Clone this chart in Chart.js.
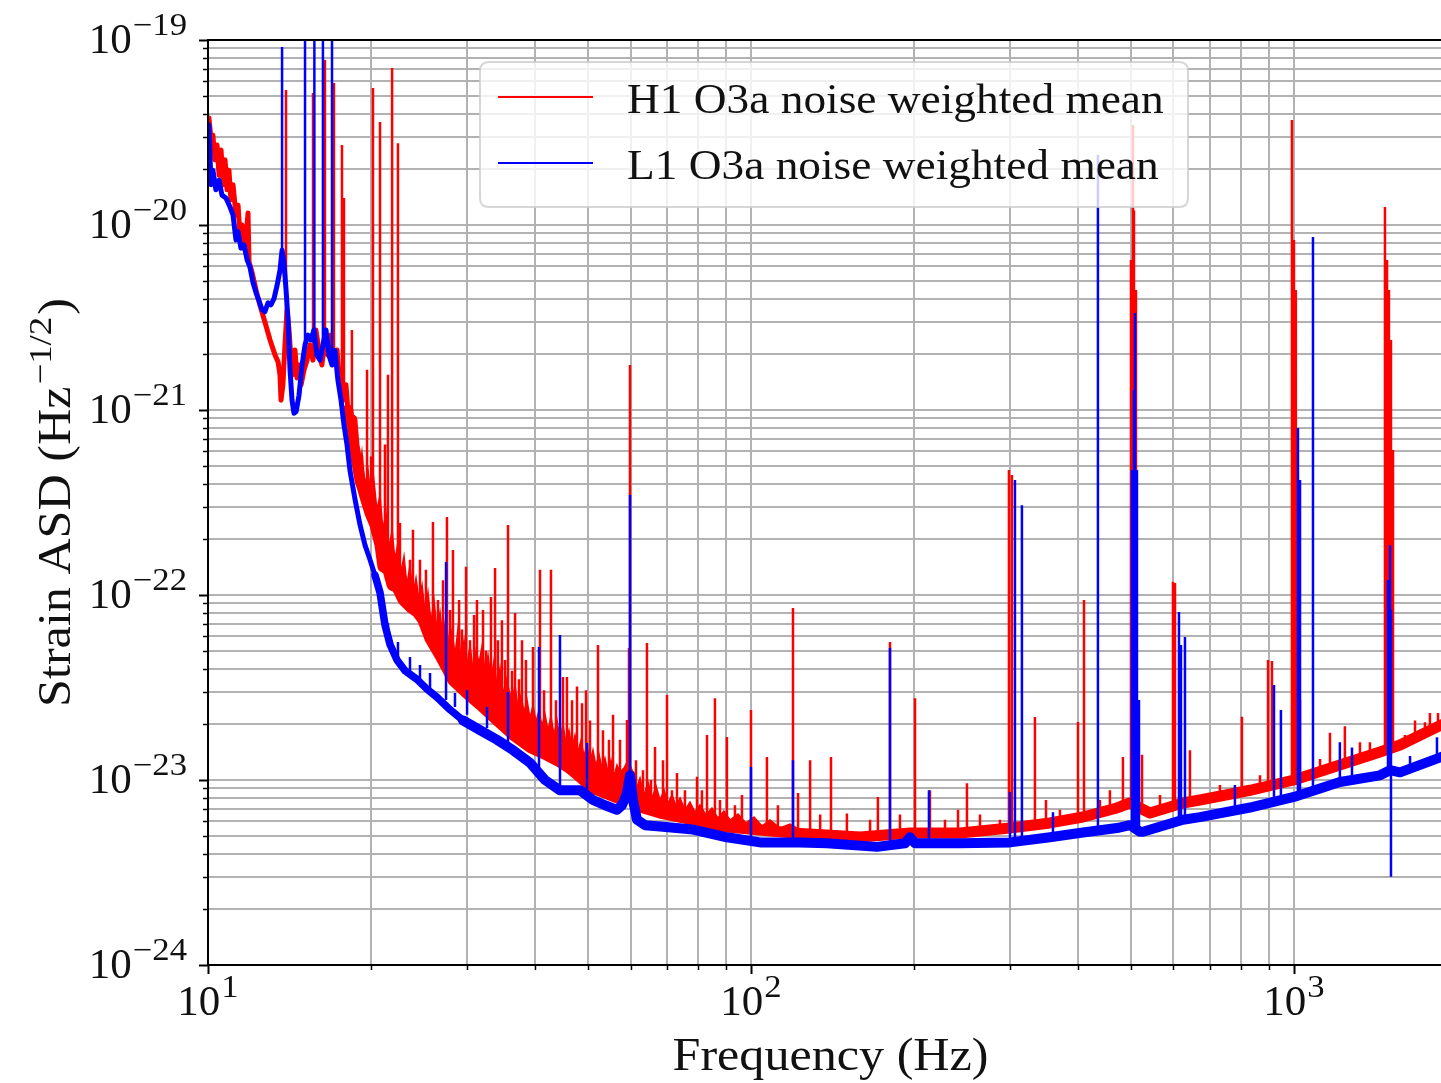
<!DOCTYPE html>
<html><head><meta charset="utf-8">
<script src="https://cdn.jsdelivr.net/npm/chart.js@4.4.0/dist/chart.umd.min.js"></script>
<style>
html,body{margin:0;padding:0;background:#fff;overflow:hidden;width:1441px;height:1083px}
#wrap{position:absolute;left:0;top:0;width:1475px;height:1083px;background:#fff}
</style>
</head><body><div id="wrap"><canvas id="c" width="1475" height="1083"></canvas></div>
<script>
// ---------------- DATA ----------------
const seriesLabels = ['H1 O3a noise weighted mean', 'L1 O3a noise weighted mean'];

// H1 (red) broadband curve
const h1Freq = [10.04,10.13,10.21,10.30,10.39,10.48,10.57,10.66,10.75,10.84,10.93,11.02,11.12,11.26,11.36,11.45,11.55,11.70,11.85,11.90,12.05,12.26,12.46,12.73,13.01,13.29,13.46,13.57,13.63,13.74,13.86,13.98,14.10,14.22,14.34,14.46,14.59,14.71,14.84,15.03,15.22,15.41,15.61,15.80,16.01,16.21,16.42,16.63,16.85,17.06,17.28,17.50,17.73,17.95,18.10,18.26,18.41,18.57,18.81,19.05,19.30,19.54,19.88,20.30,20.74,21.00,21.45,21.83,22.29,22.87,23.55,24.26,24.88,25.64,26.75,27.55,28.26,29.74,31.69,34.06,36.46,39.17,42.11,44.49,46.42,47.82,51.17,53.84,56.65,58.61,59.87,60.64,62.45,68.00,78.2,90.3,103.9,119.5,158.8,196.3,242.7,299.9,355.3,408.7,472.1,498.9,543.0,624.6,671.3,829.8,1000,1215,1440,1568,1865,2048];
const h1Asd = [3.79e-20,2.88e-20,3.06e-20,2.25e-20,2.71e-20,1.86e-20,2.54e-20,1.65e-20,2.25e-20,1.55e-20,1.98e-20,1.37e-20,1.65e-20,1.13e-20,1.28e-20,8.83e-21,1.0e-20,7.33e-21,1.16e-20,6.31e-21,5.57e-21,4.45e-21,3.70e-21,2.99e-21,2.39e-21,1.98e-21,1.82e-21,1.55e-21,1.13e-21,1.37e-21,2.25e-21,3.47e-21,2.71e-21,1.86e-21,1.55e-21,2.11e-21,1.49e-21,1.75e-21,1.37e-21,1.65e-21,1.86e-21,2.25e-21,1.86e-21,2.71e-21,2.11e-21,1.75e-21,2.39e-21,1.98e-21,2.54e-21,1.86e-21,2.11e-21,1.37e-21,1.13e-21,1.37e-21,1.0e-21,7.8e-22,8.83e-22,6.47e-22,5.17e-22,4.18e-22,3.70e-22,3.26e-22,2.77e-22,2.39e-22,1.86e-22,1.42e-22,1.37e-22,1.13e-22,1.10e-22,9.4e-23,8.61e-23,8.09e-23,7.33e-23,5.8e-23,4.7e-23,4.0e-23,3.45e-23,3.0e-23,2.55e-23,2.1e-23,1.75e-23,1.5e-23,1.36e-23,1.25e-23,1.15e-23,1.07e-23,9.0e-24,8.5e-24,8.0e-24,8.83e-24,1.06e-23,8.3e-24,7.15e-24,6.63e-24,6.08e-24,5.57e-24,5.37e-24,5.17e-24,4.92e-24,5.17e-24,5.17e-24,5.50e-24,5.86e-24,6.31e-24,7.06e-24,7.51e-24,6.63e-24,7.51e-24,7.8e-24,8.8e-24,1.0e-23,1.205e-23,1.417e-23,1.546e-23,1.98e-23,2.16e-23];

// H1 dense line forest, upper edge (filled down to the H1 curve)
const h1ForestFreq = [18.41,18.65,18.81,19.05,19.21,19.46,19.71,19.96,20.21,20.47,20.74,21.00,21.27,21.54,21.83,22.10,22.38,22.67,22.96,23.25,23.55,23.85,24.16,24.47,24.79,25.10,25.42,25.75,26.08,26.41,26.75,27.09,27.44,27.79,28.15,28.51,28.87,29.24,29.62,30.00,30.38,30.77,31.17,31.56,31.97,32.38,32.79,33.21,33.64,34.07,34.50,34.95,35.40,35.85,36.30,36.77,37.24,37.72,38.20,38.69,39.17,39.68,40.19,40.70,41.22,41.75,42.28,42.82,43.37,43.93,44.49,45.06,45.64,46.22,46.82,47.41,48.02,48.64,49.26,49.89,50.53,51.17,51.83,52.49,53.16,53.84,54.53,55.23,55.93,56.65,57.38,58.36,59.36,60.38,61.42,62.47,63.54,64.63,65.74,66.86,68.00,69.17,70.35,71.56,72.78,74.03,75.58,77.20,78.86,80.55,82.62,84.75,86.93,89.17,91.47,94.63,97.90,101.3,104.8,108.4,113.1,118.0,123.1];
const h1ForestTop = [7.80e-22,5.93e-22,6.88e-22,4.86e-22,5.93e-22,3.93e-22,4.74e-22,3.39e-22,4.18e-22,2.88e-22,3.47e-22,2.245e-22,2.81e-22,1.795e-22,2.245e-22,1.546e-22,1.934e-22,1.331e-22,1.625e-22,1.133e-22,1.453e-22,1.0e-22,1.236e-22,9.40e-23,1.133e-22,8.09e-23,1.038e-22,7.15e-23,9.40e-23,6.47e-23,8.09e-23,5.71e-23,7.80e-23,5.17e-23,6.47e-23,4.74e-23,6.63e-23,4.45e-23,5.71e-23,4.18e-23,5.37e-23,3.93e-23,5.04e-23,4.29e-23,5.30e-23,3.84e-23,4.74e-23,3.47e-23,4.45e-23,3.14e-23,4.03e-23,2.88e-23,3.56e-23,3.06e-23,2.71e-23,3.26e-23,2.45e-23,2.88e-23,2.33e-23,2.71e-23,2.16e-23,2.54e-23,2.06e-23,2.39e-23,1.96e-23,2.27e-23,1.86e-23,2.22e-23,1.75e-23,2.11e-23,1.645e-23,2.01e-23,1.566e-23,1.86e-23,1.49e-23,1.75e-23,1.417e-23,1.645e-23,1.348e-23,1.546e-23,1.251e-23,1.453e-23,1.19e-23,1.382e-23,1.161e-23,1.315e-23,1.105e-23,1.282e-23,1.051e-23,1.205e-23,1.105e-23,1.161e-23,1.282e-23,1.133e-23,8.83e-24,1.025e-23,8.30e-24,9.75e-24,7.99e-24,9.28e-24,7.80e-24,8.83e-24,7.51e-24,8.30e-24,7.24e-24,7.99e-24,6.88e-24,7.60e-24,6.71e-24,7.33e-24,6.47e-24,7.06e-24,6.23e-24,6.80e-24,6.08e-24,6.55e-24,5.86e-24,6.31e-24,5.64e-24,6.08e-24,5.50e-24,5.78e-24,5.37e-24];

// H1 narrow lines: frequency, peak value, floor value
const h1LineFreq = [13.92,15.61,16.42,17.06,17.65,17.80,18.41,19.21,19.63,19.97,20.13,20.74,21.18,21.45,21.83,22.38,22.57,23.06,23.55,23.85,24.16,24.57,25.20,25.96,26.52,27.09,27.55,27.91,28.26,29.00,29.36,29.87,30.38,30.90,31.29,32.10,32.51,33.20,33.78,34.20,34.78,35.24,35.69,36.30,36.77,37.38,37.87,38.51,39.67,40.87,41.58,42.82,43.74,45.05,45.82,46.82,47.82,48.85,49.68,50.53,52.27,53.38,54.76,55.71,57.38,59.11,59.61,59.87,61.41,63.26,64.33,65.44,66.57,68.86,70.04,71.53,73.07,75.58,79.55,81.23,82.99,85.83,87.68,90.3,93.43,96.25,100.0,107.0,112.1,119.5,122.1,128.5,134.1,140.4,150.2,165.7,171.3,180.3,188.1,200.5,213.6,227.7,240.6,249.9,264.1,287.4,298.6,302.4,333.4,349.4,370.7,400.2,410.5,439.2,458.2,484.2,501.0,505.3,507.4,511.7,525.0,566.6,598.7,603.8,643.4,730.6,802,865.8,896,911,991.5,1000,1008,1026,1117,1165,1241,1323,1380,1471,1484,1496,1509,1522,1601,1671,1743,1780,1842];
const h1LineTop = [5.37e-20,5.17e-20,7.8e-20,5.86e-20,2.71e-20,1.40e-20,2.71e-21,5.7e-22,1.65e-21,5.6e-22,5.5e-20,3.6e-20,6.5e-22,1.55e-21,7.06e-20,2.77e-20,2.45e-22,1.28e-22,1.55e-22,2.25e-22,1.06e-22,1.55e-22,1.37e-22,2.48e-22,9.4e-23,1.2e-22,2.64e-22,8.3e-23,1.75e-22,9.4e-23,6.5e-23,1.42e-22,5.7e-23,7.8e-23,9.4e-23,8.3e-23,5.0e-23,9.75e-23,1.40e-22,5.7e-23,7.3e-23,4.45e-23,2.39e-22,3.9e-23,8.0e-23,3.5e-23,5.7e-23,4.45e-23,5.24e-23,1.37e-22,3.06e-23,1.37e-22,2.7e-23,3.6e-23,3.6e-23,2.7e-23,3.2e-23,2.6e-23,3.06e-23,2.1e-23,5.37e-23,1.86e-23,1.65e-23,2.25e-23,1.65e-23,2.11e-23,5.17e-23,1.75e-21,1.28e-23,1.13e-23,5.5e-23,1.0e-23,1.51e-23,1.28e-23,2.88e-23,8.8e-24,1.09e-23,8.8e-24,1.04e-23,8.8e-24,1.75e-23,2.77e-23,7.8e-24,1.71e-23,7.3e-24,8.3e-24,2.39e-23,1.33e-23,7.3e-24,8.51e-23,8.5e-24,1.28e-23,6.5e-24,1.33e-23,6.6e-24,6.1e-24,8.1e-24,5.57e-23,6.5e-24,2.77e-23,8.8e-24,6.1e-24,6.9e-24,9.6e-24,6.5e-24,6.1e-24,4.74e-22,4.45e-22,2.19e-23,7.8e-24,6.9e-24,2.06e-23,9.4e-23,7.8e-24,8.8e-24,1.33e-23,6.47e-21,3.47e-20,1.2e-20,4.45e-21,1.37e-23,8.3e-24,1.18e-22,1.16e-22,1.45e-23,9.4e-24,2.2e-23,1.06e-23,4.45e-23,4.4e-23,3.69e-20,8.3e-21,4.45e-21,2.71e-23,1.3e-23,1.8e-23,1.95e-23,1.6e-23,1.6e-23,1.25e-20,6.47e-21,4.45e-21,2.39e-21,6.08e-22,1.75e-23,2.1e-23,2.05e-23,2.3e-23,2.3e-23];
const h1LineFloor = [2.2e-21,1.9e-21,2.4e-21,1.9e-21,1.2e-21,1.2e-21,8.8e-22,3.9e-22,3.2e-22,2.8e-22,2.6e-22,1.9e-22,1.6e-22,1.4e-22,1.13e-22,1.1e-22,1.0e-22,9.4e-23,8.6e-23,8.5e-23,8.1e-23,7.8e-23,6.9e-23,5.8e-23,5.2e-23,4.6e-23,4.0e-23,3.9e-23,3.5e-23,3.3e-23,3.1e-23,3.0e-23,2.9e-23,2.8e-23,2.7e-23,2.6e-23,2.4e-23,2.3e-23,2.2e-23,2.15e-23,2.1e-23,2.0e-23,2.0e-23,1.8e-23,1.8e-23,1.7e-23,1.7e-23,1.6e-23,1.55e-23,1.5e-23,1.45e-23,1.4e-23,1.3e-23,1.28e-23,1.2e-23,1.17e-23,1.1e-23,1.05e-23,9.5e-24,9.0e-24,9.0e-24,8.6e-24,8.4e-24,8.2e-24,8.0e-24,8.8e-24,9.5e-24,1.06e-23,7.5e-24,7.1e-24,7.0e-24,6.8e-24,6.8e-24,6.6e-24,6.6e-24,6.5e-24,6.4e-24,6.2e-24,6.1e-24,5.9e-24,5.9e-24,5.8e-24,5.7e-24,5.6e-24,5.5e-24,5.45e-24,5.4e-24,5.3e-24,5.3e-24,5.2e-24,5.2e-24,5.15e-24,5.1e-24,5.1e-24,5.0e-24,4.9e-24,4.9e-24,4.9e-24,5.0e-24,5.0e-24,5.1e-24,5.1e-24,5.1e-24,5.2e-24,5.2e-24,5.4e-24,5.5e-24,5.5e-24,5.7e-24,5.8e-24,6.0e-24,6.2e-24,6.3e-24,6.6e-24,6.9e-24,7.0e-24,7.5e-24,7.5e-24,7.5e-24,7.5e-24,7.0e-24,6.8e-24,7.5e-24,7.5e-24,7.6e-24,8.1e-24,8.8e-24,9.0e-24,9.3e-24,9.4e-24,1.0e-23,1.0e-23,1.0e-23,1.0e-23,1.1e-23,1.15e-23,1.25e-23,1.35e-23,1.45e-23,1.45e-23,1.45e-23,1.45e-23,1.45e-23,1.45e-23,1.55e-23,1.65e-23,1.8e-23,1.85e-23,1.95e-23];

// L1 (blue) broadband curve
const l1Freq = [10.04,10.13,10.21,10.34,10.48,10.61,10.79,10.98,11.12,11.26,11.36,11.50,11.65,11.80,11.95,12.10,12.26,12.41,12.57,12.73,12.90,13.06,13.23,13.40,13.57,13.69,13.80,13.92,14.04,14.16,14.28,14.40,14.53,14.71,14.90,15.09,15.28,15.47,15.67,15.87,16.08,16.28,16.49,16.70,16.92,17.13,17.35,17.58,17.80,18.03,18.26,18.65,19.05,19.46,19.88,20.30,20.74,21.18,21.64,22.29,23.06,24.26,25.31,26.41,27.91,29.49,31.69,34.06,36.46,39.17,41.75,44.49,48.44,51.17,53.84,56.65,57.86,59.11,59.87,60.64,61.66,63.79,68.00,78.2,90.3,103.9,123.1,138.0,170.6,192.2,196.3,200.5,242.7,299.9,355.3,408.7,472.1,498.9,520.5,527.2,624.6,671.3,829.8,1000,1215,1440,1503,1568,1865,2048];
const l1Asd = [3.47e-20,1.65e-20,1.98e-20,1.55e-20,1.75e-20,1.45e-20,1.40e-20,1.25e-20,1.13e-20,8.3e-21,9.2e-21,7.5e-21,7.8e-21,6.5e-21,5.9e-21,4.9e-21,4.3e-21,3.9e-21,3.5e-21,3.4e-21,3.8e-21,3.7e-21,4.0e-21,4.7e-21,5.7e-21,7.3e-21,6.3e-21,4.5e-21,3.1e-21,1.65e-21,1.13e-21,9.6e-22,9.8e-22,1.2e-21,1.75e-21,2.25e-21,2.54e-21,2.39e-21,2.71e-21,1.98e-21,1.86e-21,2.25e-21,2.71e-21,1.98e-21,1.75e-21,2.1e-21,1.45e-21,1.13e-21,8.3e-22,6.5e-22,4.7e-22,3.3e-22,2.4e-22,1.86e-22,1.55e-22,1.28e-22,1.03e-22,6.9e-23,5.4e-23,4.45e-23,3.9e-23,3.5e-23,3.1e-23,2.8e-23,2.4e-23,2.1e-23,1.86e-23,1.65e-23,1.45e-23,1.24e-23,1.0e-23,8.8e-24,8.8e-24,7.8e-24,7.3e-24,6.9e-24,7.3e-24,8.5e-24,1.06e-23,7.8e-24,6.1e-24,5.7e-24,5.6e-24,5.4e-24,4.9e-24,4.6e-24,4.6e-24,4.55e-24,4.35e-24,4.55e-24,4.9e-24,4.55e-24,4.55e-24,4.6e-24,4.9e-24,5.2e-24,5.5e-24,5.7e-24,5.25e-24,5.25e-24,6.1e-24,6.3e-24,7.1e-24,8.1e-24,9.75e-24,1.06e-23,1.13e-23,1.1e-23,1.33e-23,1.45e-23];

// L1 narrow lines: frequency, peak value, floor value
const l1LineFreq = [13.69,15.09,15.70,16.28,16.92,21.45,22.38,23.55,24.57,25.64,27.44,28.50,30.00,32.65,35.69,40.70,44.49,49.89,59.87,100.0,119.5,180.3,212.7,299.9,306.3,315.5,359.9,435.5,503.2,507.4,509.6,513.9,518.3,614.1,619.3,629.9,778.5,918.8,946.2,1017,1026,1084,1215,1279,1490,1503,1509,1636,1834];
const l1LineTop = [9.17e-20,2e-19,2e-19,2e-19,2e-19,7.06e-23,5.57e-23,4.62e-23,4.18e-23,3.79e-23,1.51e-22,2.95e-23,3.06e-23,2.48e-23,2.99e-23,5.24e-23,6.08e-23,1.585e-23,3.47e-22,1.175e-23,1.28e-23,5.17e-23,8.8e-24,8.6e-24,4.18e-22,3.06e-22,6.7e-24,2.39e-20,4.74e-22,1.28e-21,3.34e-21,4.74e-22,2.71e-23,8.1e-23,5.37e-23,5.93e-23,9.4e-24,3.26e-23,2.39e-23,8.0e-22,4.18e-22,8.61e-21,1.6e-23,1.5e-23,1.205e-22,1.86e-22,8.3e-23,1.35e-23,1.7e-23];
const l1LineFloor = [6.5e-21,2.25e-21,2.7e-21,2.25e-21,1.75e-21,5.71e-23,4.45e-23,3.84e-23,3.47e-23,3.14e-23,2.71e-23,2.48e-23,2.25e-23,1.91e-23,1.55e-23,1.13e-23,8.8e-24,8.3e-24,8.8e-24,4.98e-24,4.74e-24,4.45e-24,4.57e-24,4.6e-24,4.6e-24,4.6e-24,4.9e-24,5.2e-24,5.7e-24,5.7e-24,5.7e-24,5.4e-24,5.25e-24,6.1e-24,6.1e-24,6.1e-24,6.9e-24,7.6e-24,7.6e-24,8.1e-24,8.1e-24,8.5e-24,9.75e-24,1.0e-23,1.1e-23,1.1e-23,3.0e-24,1.15e-23,1.35e-23];

// axes
const xMin = 10, xMax = 2048;
const yMin = 1e-24, yMax = 1e-19;
const xDecades = [10, 100, 1000];
const xDecadeExp = ['1', '2', '3'];
const yDecadeExp = [-24, -23, -22, -21, -20, -19];
const yDecadeLabels = ['\u221224', '\u221223', '\u221222', '\u221221', '\u221220', '\u221219'];
const xTitle = 'Frequency (Hz)';
const yTitleMain = 'Strain ASD (Hz';
const yTitleSup = '\u22121/2';
const yTitleEnd = ')';

// ---------------- BUILD ----------------
const xGrid = [];
xDecades.forEach(d => { for (let m = 1; m <= 9; m++) { const v = m * d; if (v <= xMax) xGrid.push({ v, major: m === 1 }); } });
const yGrid = [];
yDecadeExp.forEach(e => { const top = e === -19 ? 1 : 9; for (let m = 1; m <= top; m++) yGrid.push({ v: Number(m + 'e' + e), major: m === 1 }); });

function curve(fr, vals) { return fr.map((f, i) => ({ x: f, y: vals[i] })); }
function lines(fr, top, floor) {
  const out = [];
  fr.forEach((f, i) => { out.push({ x: f, y: floor[i] }, { x: f, y: top[i] }, { x: f, y: null }); });
  return out;
}

const FONT = '"Liberation Serif", "Times New Roman", serif';
function txt(ctx, s, x, y, size, stretch) {
  ctx.save();
  ctx.font = size + 'px ' + FONT;
  ctx.translate(x, y); ctx.scale(stretch, 1);
  ctx.fillText(s, 0, 0);
  ctx.restore();
}
function tw(ctx, s, size, stretch) { ctx.font = size + 'px ' + FONT; return ctx.measureText(s).width * stretch; }
function drawPow(ctx, x, y, exp, align) {
  const w1 = tw(ctx, '10', 43, 1), w2 = tw(ctx, exp, 31, 1.12);
  const total = w1 + 1 + w2;
  const x0 = align === 'right' ? x - total : x - total / 2;
  txt(ctx, '10', x0, y, 43, 1);
  txt(ctx, exp, x0 + w1 + 1, y - 18, 31, 1.12);
}

const decor = {
  id: 'decor',
  afterDraw(chart) {
    const ctx = chart.ctx, a = chart.chartArea, xs = chart.scales.x, ys = chart.scales.y;
    ctx.save();
    ctx.fillStyle = '#111';
    ctx.textBaseline = 'alphabetic';
    ctx.textAlign = 'left';
    ctx.strokeStyle = '#000';
    xGrid.forEach(g => {
      const px = Math.round(xs.getPixelForValue(g.v)) + 0.5;
      ctx.lineWidth = g.major ? 2 : 1.5;
      ctx.beginPath(); ctx.moveTo(px, a.bottom); ctx.lineTo(px, a.bottom + (g.major ? 9 : 5)); ctx.stroke();
    });
    yGrid.forEach(g => {
      const py = Math.round(ys.getPixelForValue(g.v)) + 0.5;
      ctx.lineWidth = g.major ? 2 : 1.5;
      ctx.beginPath(); ctx.moveTo(a.left, py); ctx.lineTo(a.left - (g.major ? 9 : 5), py); ctx.stroke();
    });
    ctx.lineWidth = 2;
    ctx.strokeRect(a.left, a.top, a.right - a.left, a.bottom - a.top);
    yDecadeExp.forEach((e, i) => {
      const py = ys.getPixelForValue(Number('1e' + e));
      drawPow(ctx, 187, py + 13, yDecadeLabels[i], 'right');
    });
    xDecades.forEach((d, i) => {
      const px = xs.getPixelForValue(d);
      drawPow(ctx, px, a.bottom + 50, xDecadeExp[i], 'center');
    });
    const xw = tw(ctx, xTitle, 46, 1.09);
    txt(ctx, xTitle, (a.left + a.right) / 2 - xw / 2 - 5, a.bottom + 105, 46, 1.09);
    ctx.save();
    ctx.translate(70, (a.top + a.bottom) / 2);
    ctx.rotate(-Math.PI / 2);
    const s = 1.09;
    const w1 = tw(ctx, yTitleMain, 46, s), w2 = tw(ctx, yTitleSup, 32, 1.15), w3 = tw(ctx, yTitleEnd, 46, s);
    const W = w1 + 2 + w2 + 2 + w3;
    const x0 = -W / 2;
    txt(ctx, yTitleMain, x0, 0, 46, s);
    txt(ctx, yTitleSup, x0 + w1 + 2, -19, 32, 1.15);
    txt(ctx, yTitleEnd, x0 + w1 + 2 + w2 + 2, 0, 46, s);
    ctx.restore();
    // legend
    const lx = 480, ly = 62, lw = 708, lh = 145, r = 9;
    ctx.beginPath();
    ctx.moveTo(lx + r, ly); ctx.lineTo(lx + lw - r, ly); ctx.quadraticCurveTo(lx + lw, ly, lx + lw, ly + r);
    ctx.lineTo(lx + lw, ly + lh - r); ctx.quadraticCurveTo(lx + lw, ly + lh, lx + lw - r, ly + lh);
    ctx.lineTo(lx + r, ly + lh); ctx.quadraticCurveTo(lx, ly + lh, lx, ly + lh - r);
    ctx.lineTo(lx, ly + r); ctx.quadraticCurveTo(lx, ly, lx + r, ly);
    ctx.closePath();
    ctx.fillStyle = 'rgba(255,255,255,0.8)'; ctx.fill();
    ctx.strokeStyle = 'rgba(204,204,204,0.8)'; ctx.lineWidth = 2; ctx.stroke();
    const cols = ['#ff0000', '#0000ff'];
    seriesLabels.forEach((lab, i) => {
      const yy = 97 + i * 66;
      ctx.strokeStyle = cols[i]; ctx.lineWidth = 2.2;
      ctx.beginPath(); ctx.moveTo(498, yy); ctx.lineTo(593, yy); ctx.stroke();
      ctx.fillStyle = '#111';
      txt(ctx, lab, 627, yy + 16, 43, 1.055);
    });
    ctx.restore();
  }
};

const commonScale = (type, min, max, grid, isX) => ({
  type, min, max,
  afterBuildTicks: ax => { ax.ticks = grid.map(g => ({ value: g.v })); },
  afterFit: ax => { if (isX) ax.height = 0; else ax.width = 0; },
  ticks: { display: false, autoSkip: false },
  grid: { color: '#b2b2b2', lineWidth: 2, drawTicks: false },
  border: { display: false }
});

new Chart(document.getElementById('c'), {
  type: 'line',
  data: {
    datasets: [
      { label: seriesLabels[0], data: curve(h1Freq, h1Asd), borderColor: '#ff0000', borderWidth: 11, pointRadius: 0, order: 5, clip: 0, borderJoinStyle: 'round', borderCapStyle: 'round',
        segment: { borderWidth: c => (c.p0.parsed.x < 18 ? 5 : 11) } },
      { label: seriesLabels[0] + ' forest', data: curve(h1ForestFreq, h1ForestTop), borderColor: '#ff0000', backgroundColor: '#ff0000', borderWidth: 1.5, pointRadius: 0, order: 4, clip: 0, fill: { target: 0 } },
      { label: seriesLabels[0] + ' lines', data: lines(h1LineFreq, h1LineTop, h1LineFloor), borderColor: '#ff0000', borderWidth: 2.5, pointRadius: 0, order: 3, clip: 0, spanGaps: false },
      { label: seriesLabels[1], data: curve(l1Freq, l1Asd), borderColor: '#0000ff', borderWidth: 10, pointRadius: 0, order: 2, clip: 0, borderJoinStyle: 'round', borderCapStyle: 'round',
        segment: { borderWidth: c => (c.p0.parsed.x < 20 ? 5 : (c.p0.parsed.x < 28 ? 7.5 : 10)) } },
      { label: seriesLabels[1] + ' lines', data: lines(l1LineFreq, l1LineTop, l1LineFloor), borderColor: '#0000ff', borderWidth: 2.5, pointRadius: 0, order: 1, clip: 0, spanGaps: false }
    ]
  },
  options: {
    responsive: false, animation: false, devicePixelRatio: 1,
    layout: { padding: { left: 208, right: 12, top: 40, bottom: 118 } },
    plugins: { legend: { display: false }, tooltip: { enabled: false }, filler: { propagate: false } },
    elements: { line: { tension: 0 }, point: { radius: 0 } },
    scales: {
      x: commonScale('logarithmic', xMin, xMax, xGrid, true),
      y: commonScale('logarithmic', yMin, yMax, yGrid, false)
    }
  },
  plugins: [decor]
});
</script>
</body></html>
